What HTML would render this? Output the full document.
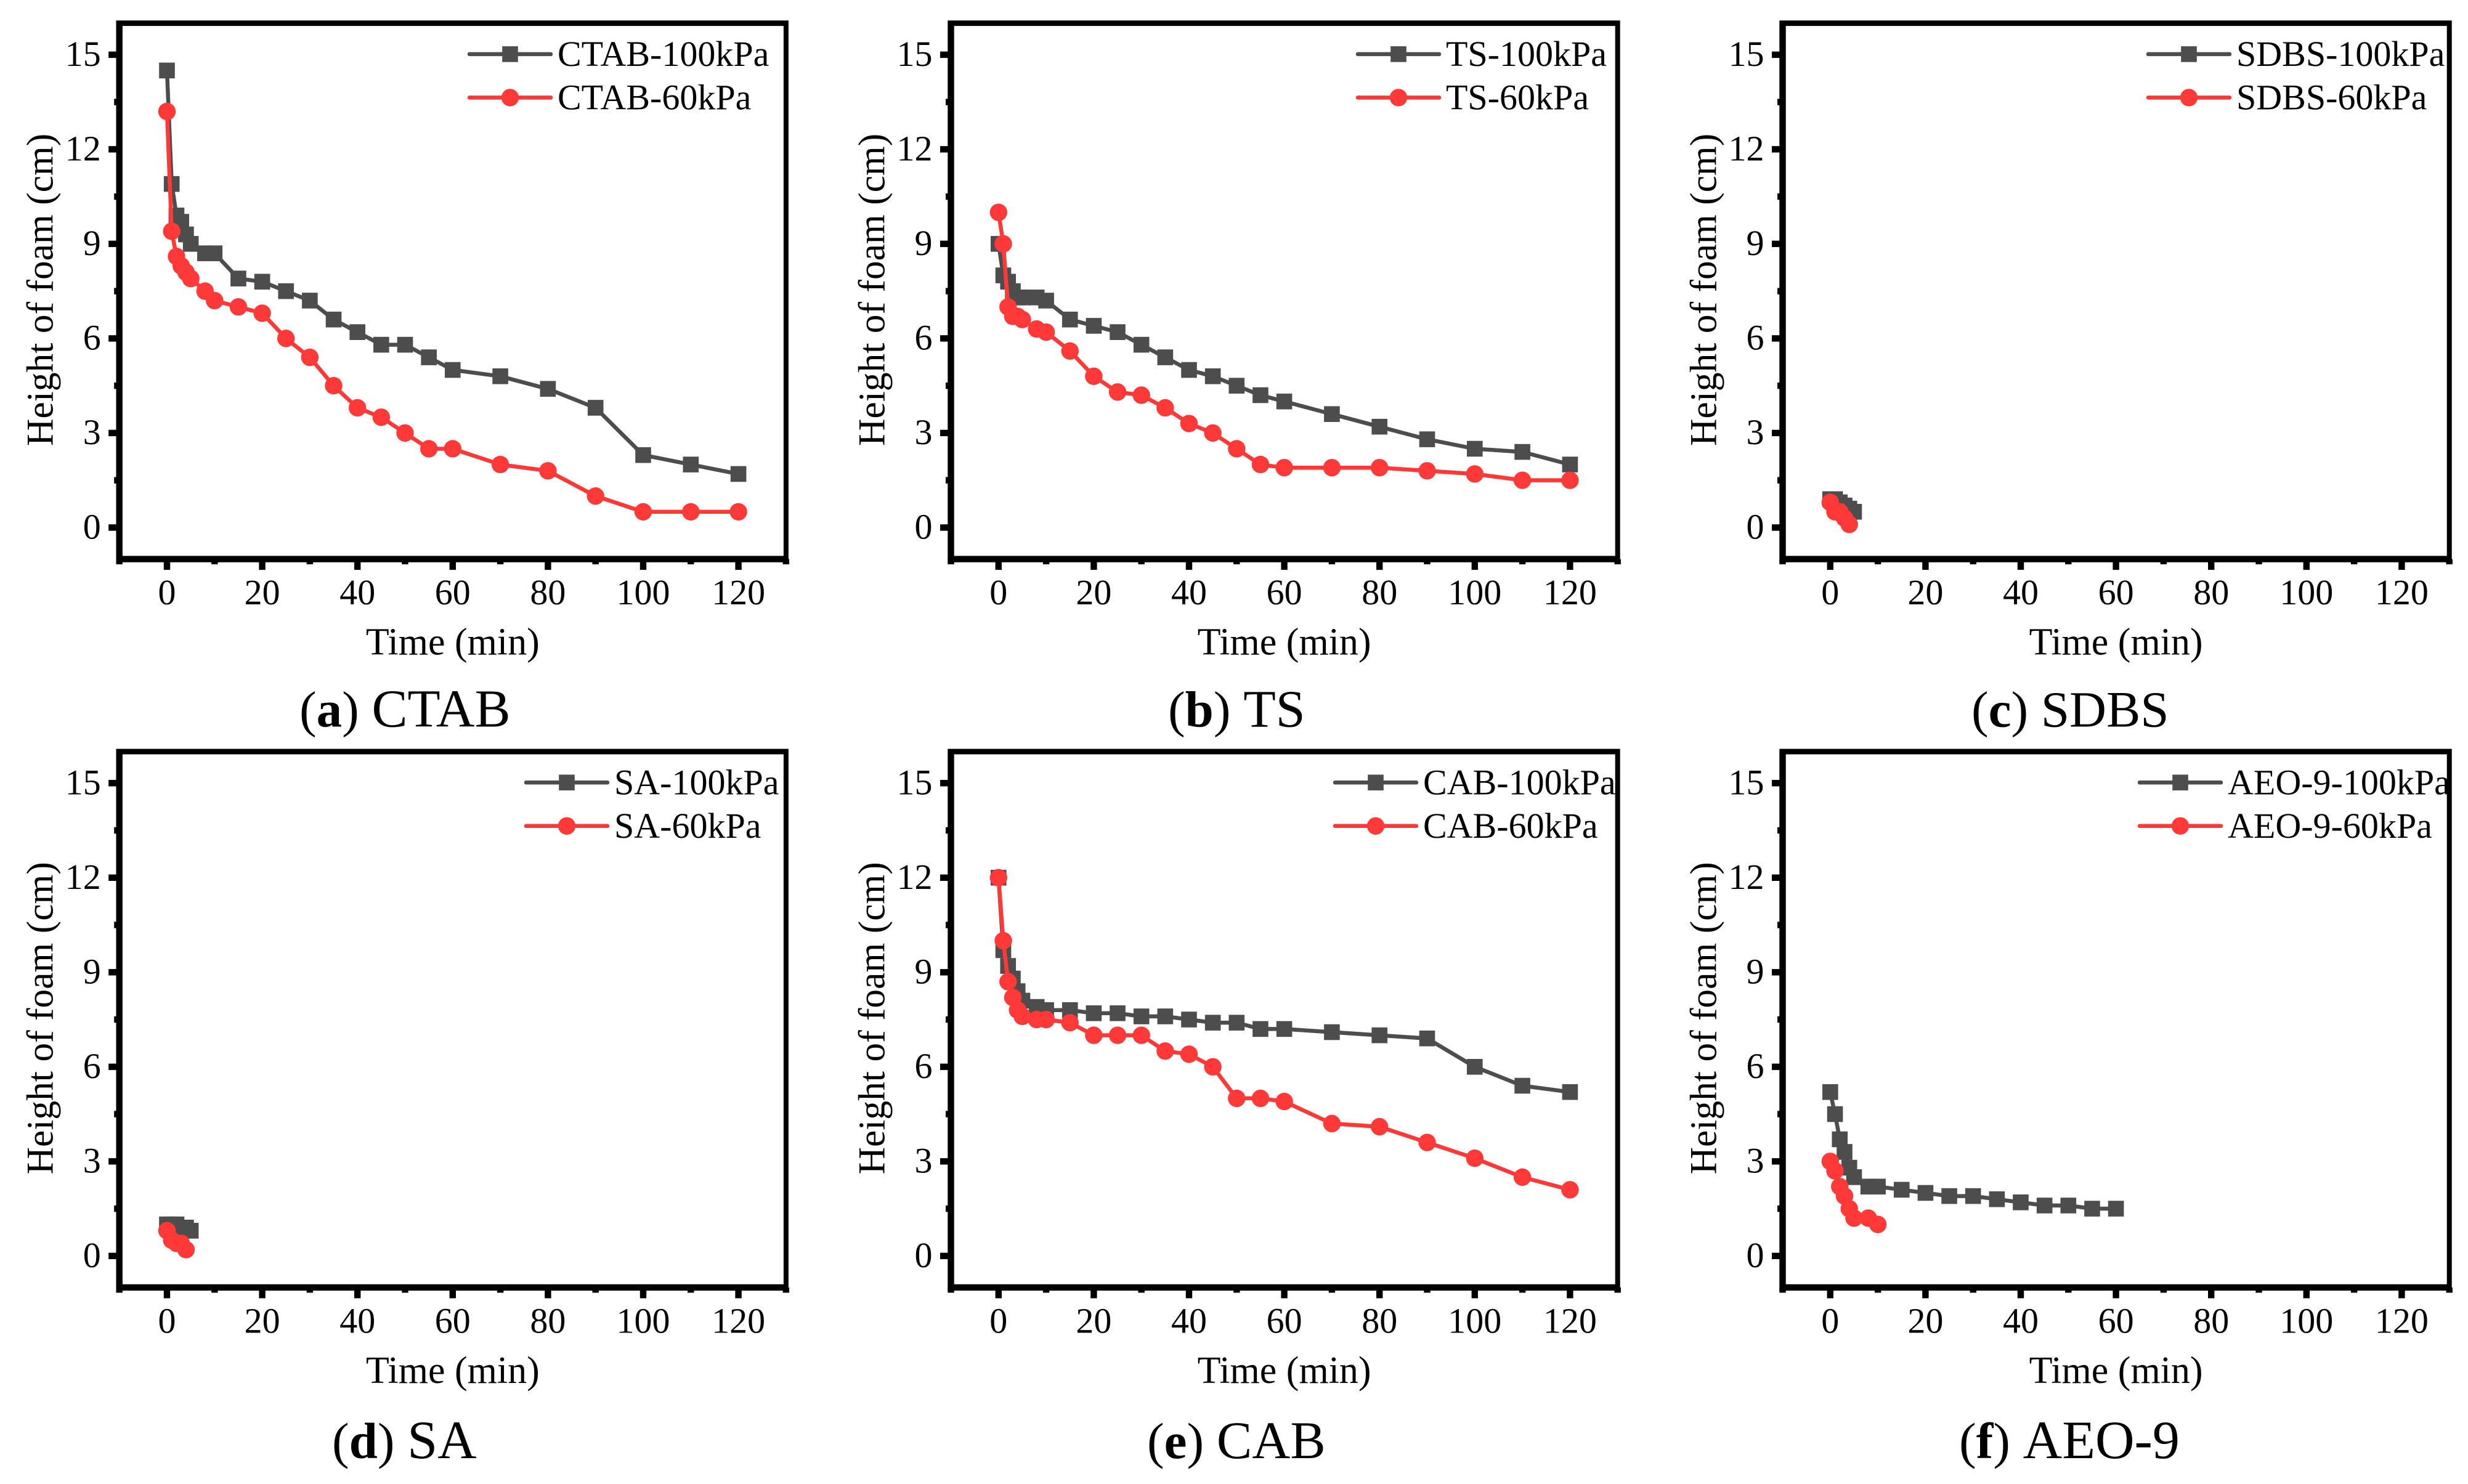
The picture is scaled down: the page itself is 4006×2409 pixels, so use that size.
<!DOCTYPE html>
<html lang="en">
<head>
<meta charset="utf-8">
<title>Height of foam over time</title>
<style>
html,body{margin:0;padding:0;background:#fff;}
svg{display:block;}
text{font-family:"Liberation Serif","Times New Roman",serif;fill:#000;}
</style>
</head>
<body>
<svg id="figure" xmlns="http://www.w3.org/2000/svg" width="4006" height="2409" viewBox="0 0 4006 2409">
<rect x="0" y="0" width="4006" height="2409" fill="#ffffff"/>
</svg>
<script>
const timesLong = [0,1,2,3,4,5,8,10,15,20,25,30,35,40,45,50,55,60,70,80,90,100,110,120];
const timesSix = [0,1,2,3,4,5];
const timesFive = [0,1,2,3,4];
const timesAeo100 = [0,1,2,3,4,5,8,10,15,20,25,30,35,40,45,50,55,60];
const timesAeo60 = [0,1,2,3,4,5,8,10];

const ctab100 = [14.5,10.9,9.9,9.7,9.3,9,8.7,8.7,7.9,7.8,7.5,7.2,6.6,6.2,5.8,5.8,5.4,5,4.8,4.4,3.8,2.3,2,1.7];
const ctab60 = [13.2,9.4,8.6,8.3,8.1,7.9,7.5,7.2,7,6.8,6,5.4,4.5,3.8,3.5,3,2.5,2.5,2,1.8,1,0.5,0.5,0.5];
const ts100 = [9,8,7.8,7.5,7.3,7.3,7.3,7.2,6.6,6.4,6.2,5.8,5.4,5,4.8,4.5,4.2,4,3.6,3.2,2.8,2.5,2.4,2];
const ts60 = [10,9,7,6.7,6.7,6.6,6.3,6.2,5.6,4.8,4.3,4.2,3.8,3.3,3,2.5,2,1.9,1.9,1.9,1.8,1.7,1.5,1.5];
const sdbs100 = [0.9,0.9,0.8,0.7,0.6,0.5];
const sdbs60 = [0.8,0.5,0.5,0.3,0.1];
const sa100 = [1,1,1,0.9,0.9,0.8];
const sa60 = [0.8,0.5,0.4,0.4,0.2];
const cab100 = [12,9.7,9.2,8.8,8.4,8.1,7.9,7.8,7.8,7.7,7.7,7.6,7.6,7.5,7.4,7.4,7.2,7.2,7.1,7,6.9,6,5.4,5.2];
const cab60 = [12,10,8.7,8.2,7.8,7.6,7.5,7.5,7.4,7,7,7,6.5,6.4,6,5,5,4.9,4.2,4.1,3.6,3.1,2.5,2.1];
const aeo100 = [5.2,4.5,3.7,3.3,2.8,2.5,2.2,2.2,2.1,2,1.9,1.9,1.8,1.7,1.6,1.6,1.5,1.5];
const aeo60 = [3,2.7,2.2,1.9,1.5,1.2,1.2,1];

const xMajorTicks = [0,20,40,60,80,100,120];
const xMinorTicks = [-10,10,30,50,70,90,110,130];
const yMajorTicks = [0,3,6,9,12,15];
const yMinorTicks = [1.5,4.5,7.5,10.5,13.5];
const xTitle = 'Time (min)';
const yTitle = 'Height of foam (cm)';

const GRAY = '#4d4d4d';
const RED = '#ff3838';
const XU = 7.73;
const YU = 51.17;
const NS = 'http://www.w3.org/2000/svg';
const root = document.getElementById('figure');

function mk(tag, parent, attrs, txt) {
  const e = document.createElementNS(NS, tag);
  for (const k in attrs) e.setAttribute(k, attrs[k]);
  if (txt !== undefined) e.textContent = txt;
  parent.appendChild(e);
  return e;
}

function drawPanel(p) {
  const xs = t => p.ox + t * XU;
  const ys = v => p.oy - v * YU;
  const left = xs(-10), right = xs(130), top = ys(16), bottom = ys(-1);

  const g = mk('g', root, {});
  
  

  // ticks
  xMajorTicks.forEach(t => {
    const tick = mk('rect', g, {x: xs(t) - 5.2, y: bottom, width: 10.4, height: 17.5, fill: '#000'});
    
    
    const lab = mk('text', g, {x: xs(t), y: p.oy + 124.6, 'font-size': 58, 'text-anchor': 'middle'}, String(t));
    
    
  });
  xMinorTicks.forEach(t => {
    const tick = mk('rect', g, {x: xs(t) - 5.2, y: bottom, width: 10.4, height: 8.5, fill: '#000'});
    
    
  });
  yMajorTicks.forEach(v => {
    const tick = mk('rect', g, {x: left - 17.5, y: ys(v) - 5.2, width: 17.5, height: 10.4, fill: '#000'});
    
    
    const lab = mk('text', g, {x: left - 30, y: ys(v) + 18, 'font-size': 58, 'text-anchor': 'end'}, String(v));
    
    
  });
  yMinorTicks.forEach(v => {
    const tick = mk('rect', g, {x: left - 8.5, y: ys(v) - 5.2, width: 8.5, height: 10.4, fill: '#000'});
    
    
  });

  // frame
  const frame = mk('path', g, {
    d: 'M' + (left - 5.2) + ' ' + (top - 4.4) + 'H' + (right + 4) + 'V' + (bottom + 5.2) + 'H' + (left - 5.2) + 'Z' +
       'M' + (left + 5.2) + ' ' + (top + 4.4) + 'V' + (bottom - 5.2) + 'H' + (right - 4) + 'V' + (top + 4.4) + 'Z',
    fill: '#000', 'fill-rule': 'evenodd'
  });
  
  

  // axis titles
  const xt = mk('text', g, {x: p.ox + 60 * XU, y: p.oy + 206, 'font-size': 62, 'text-anchor': 'middle'}, xTitle);
  
  
  const yx = left - 108, yy = p.oy - 386;
  const yt = mk('text', g, {x: yx, y: yy, 'font-size': 61.5, 'text-anchor': 'middle', transform: 'rotate(-90 ' + yx + ' ' + yy + ')'}, yTitle);
  
  

  // series
  const pts = (ts, vs) => ts.map((t, i) => xs(t).toFixed(1) + ',' + ys(vs[i]).toFixed(1)).join(' ');

  const line100 = mk('polyline', g, {points: pts(p.t100, p.v100), fill: 'none', stroke: GRAY, 'stroke-width': 6.5, 'stroke-linejoin': 'round'});
  
  
  p.t100.forEach((t, i) => {
    const m = mk('rect', g, {x: xs(t) - 12.8, y: ys(p.v100[i]) - 12.8, width: 25.6, height: 25.6, fill: GRAY});
    
    
  });
  const line60 = mk('polyline', g, {points: pts(p.t60, p.v60), fill: 'none', stroke: RED, 'stroke-width': 6.5, 'stroke-linejoin': 'round'});
  
  
  p.t60.forEach((t, i) => {
    const m = mk('circle', g, {cx: xs(t), cy: ys(p.v60[i]), r: 14.2, fill: RED});
    
    
  });

  // legend
  const ly1 = p.oy - 768.5, ly2 = p.oy - 698;
  const lg = mk('g', g, {});
  
  
  const ll1 = mk('line', lg, {x1: p.lx, x2: p.lx + 132, y1: ly1, y2: ly1, stroke: GRAY, 'stroke-width': 6.5, 'stroke-linecap': 'round'});
  
  
  const lm1 = mk('rect', lg, {x: p.lx + 66 - 12.8, y: ly1 - 12.8, width: 25.6, height: 25.6, fill: GRAY});
  
  
  const lt1 = mk('text', lg, {x: p.lx + 143, y: ly1 + 19, 'font-size': 58}, p.label + '-100kPa');
  
  
  const ll2 = mk('line', lg, {x1: p.lx, x2: p.lx + 132, y1: ly2, y2: ly2, stroke: RED, 'stroke-width': 6.5, 'stroke-linecap': 'round'});
  
  
  const lm2 = mk('circle', lg, {cx: p.lx + 66, cy: ly2, r: 14.2, fill: RED});
  
  
  const lt2 = mk('text', lg, {x: p.lx + 143, y: ly2 + 19, 'font-size': 58}, p.label + '-60kPa');
  
  

  // caption
  const cap = mk('text', g, {x: p.cx, y: p.oy + p.cdy, 'font-size': 83});
  
  
  mk('tspan', cap, {}, '(');
  mk('tspan', cap, {'font-weight': 'bold'}, p.letter);
  mk('tspan', cap, {}, ') ');
  mk('tspan', cap, {'font-size': p.capSize}, p.label);
}

drawPanel({key: 'ctab', label: 'CTAB', letter: 'a', ox: 271, oy: 856.4, lx: 762, cx: 486, cdy: 323, capSize: 87, t100: timesLong, v100: ctab100, t60: timesLong, v60: ctab60});
drawPanel({key: 'ts', label: 'TS', letter: 'b', ox: 1620.8, oy: 856.4, lx: 2204, cx: 1896, cdy: 323, capSize: 86, t100: timesLong, v100: ts100, t60: timesLong, v60: ts60});
drawPanel({key: 'sdbs', label: 'SDBS', letter: 'c', ox: 2970.8, oy: 856.4, lx: 3487, cx: 3200, cdy: 323, capSize: 83, t100: timesSix, v100: sdbs100, t60: timesFive, v60: sdbs60});
drawPanel({key: 'sa', label: 'SA', letter: 'd', ox: 271, oy: 2038.8, lx: 854, cx: 539, cdy: 328, capSize: 88, t100: timesSix, v100: sa100, t60: timesFive, v60: sa60});
drawPanel({key: 'cab', label: 'CAB', letter: 'e', ox: 1620.8, oy: 2038.8, lx: 2167, cx: 1862, cdy: 328, capSize: 86, t100: timesLong, v100: cab100, t60: timesLong, v60: cab60});
drawPanel({key: 'aeo9', label: 'AEO-9', letter: 'f', ox: 2970.8, oy: 2038.8, lx: 3473, cx: 3180, cdy: 328, capSize: 88, t100: timesAeo100, v100: aeo100, t60: timesAeo60, v60: aeo60});
</script>
</body>
</html>
